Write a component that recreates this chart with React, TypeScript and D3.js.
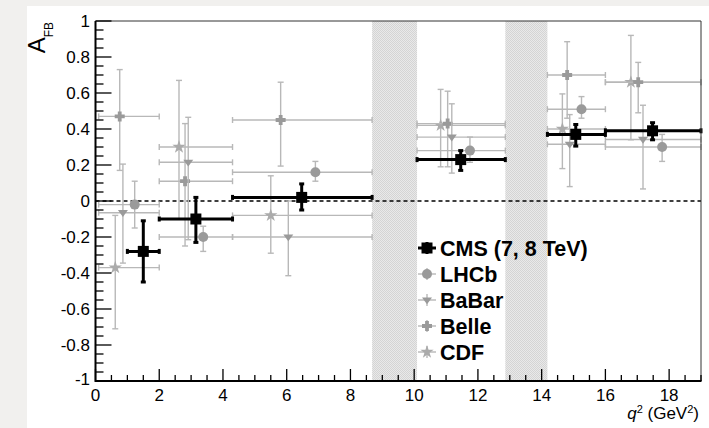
import React from "react";
import * as d3 from "d3";

// q^2 bins (GeV^2) and forward-backward asymmetry measurements
const cmsLo = [1, 2, 4.3, 10.09, 14.18, 16];
const cmsHi = [2, 4.3, 8.68, 12.86, 16, 19];
const cmsX = [1.5, 3.15, 6.47, 11.46, 15.07, 17.48];
const cmsY = [-0.28, -0.1, 0.02, 0.23, 0.37, 0.39];
const cmsUp = [0.17, 0.12, 0.075, 0.05, 0.055, 0.045];
const cmsDn = [0.17, 0.13, 0.07, 0.06, 0.065, 0.05];

const lhcbLo = [0.1, 2, 4.3, 10.09, 14.18, 16];
const lhcbHi = [2, 4.3, 8.68, 12.86, 16, 19];
const lhcbX = [1.23, 3.38, 6.9, 11.75, 15.25, 17.78];
const lhcbY = [-0.02, -0.2, 0.16, 0.28, 0.51, 0.3];
const lhcbUp = [0.13, 0.06, 0.06, 0.075, 0.07, 0.07];
const lhcbDn = [0.13, 0.08, 0.05, 0.065, 0.05, 0.08];

const babarLo = [0.1, 2, 4.3, 10.09, 14.18, 16];
const babarHi = [2, 4.3, 8.68, 12.86, 16, 19];
const babarX = [0.86, 2.91, 6.05, 11.18, 14.88, 17.18];
const babarY = [-0.065, 0.215, -0.2, 0.355, 0.315, 0.342];
const babarUp = [0.27, 0.25, 0.2, 0.185, 0.165, 0.19];
const babarDn = [0.28, 0.43, 0.215, 0.2, 0.235, 0.275];

const belleLo = [0.1, 2, 4.3, 10.09, 14.18, 16];
const belleHi = [2, 4.3, 8.68, 12.86, 16, 19];
const belleX = [0.76, 2.81, 5.81, 11.05, 14.8, 17.03];
const belleY = [0.47, 0.11, 0.45, 0.43, 0.7, 0.66];
const belleUp = [0.26, 0.32, 0.21, 0.18, 0.185, 0.11];
const belleDn = [0.3, 0.36, 0.256, 0.24, 0.24, 0.17];

const cdfLo = [0.1, 2, 4.3, 10.09, 14.18, 16];
const cdfHi = [2, 4.3, 8.68, 12.86, 16, 19];
const cdfX = [0.62, 2.62, 5.5, 10.83, 14.65, 16.8];
const cdfY = [-0.37, 0.3, -0.08, 0.42, 0.4, 0.66];
const cdfUp = [0.29, 0.37, 0.22, 0.2, 0.195, 0.26];
const cdfDn = [0.34, 0.4, 0.21, 0.23, 0.22, 0.32];

// charmonium veto regions
const vetoLo = [8.68, 12.86];
const vetoHi = [10.09, 14.18];

const xTicks = [0, 2, 4, 6, 8, 10, 12, 14, 16, 18];
const yTicks = [-1, -0.8, -0.6, -0.4, -0.2, 0, 0.2, 0.4, 0.6, 0.8, 1];
const legendLabels = ["CMS (7, 8 TeV)", "LHCb", "BaBar", "Belle", "CDF"];

const W = 709;
const H = 428;
const FONT = "'Liberation Sans', Arial, Helvetica, sans-serif";

const x = d3.scaleLinear().domain([0, 19]).range([95.5, 701]);
const y = d3.scaleLinear().domain([-1, 1]).range([381, 21]);

const MARK = "#9a9a9a";
const BAR = "#b8b8b8";

type Shape = "square" | "circle" | "triangle" | "cross" | "star";

function markerPath(shape: Shape, s: number): string {
  if (shape === "circle") return d3.symbol(d3.symbolCircle, Math.PI * s * s)()!;
  if (shape === "triangle") {
    const h = s * 1.15;
    return `M${-s},${-h * 0.45}L${s},${-h * 0.45}L0,${h * 0.75}Z`;
  }
  if (shape === "cross") {
    const a = s, b = s * 0.38;
    return `M${-b},${-a}H${b}V${-b}H${a}V${b}H${b}V${a}H${-b}V${b}H${-a}V${-b}H${-b}Z`;
  }
  if (shape === "star") return d3.symbol(d3.symbolStar, s * s * 2.2)()!;
  return `M${-s},${-s}H${s}V${s}H${-s}Z`;
}

type Series = {
  lo: number[]; hi: number[]; xs: number[]; ys: number[]; up: number[]; dn: number[];
  shape: Shape; size: number; color: string; bar: string; lw: number; cap: number;
};

const grey = { bar: BAR, lw: 1.4, cap: 3 };
const series: Series[] = [
  { lo: cdfLo, hi: cdfHi, xs: cdfX, ys: cdfY, up: cdfUp, dn: cdfDn, shape: "star", size: 5, color: "#ababab", ...grey },
  { lo: belleLo, hi: belleHi, xs: belleX, ys: belleY, up: belleUp, dn: belleDn, shape: "cross", size: 5, color: MARK, ...grey },
  { lo: babarLo, hi: babarHi, xs: babarX, ys: babarY, up: babarUp, dn: babarDn, shape: "triangle", size: 5, color: MARK, ...grey },
  { lo: lhcbLo, hi: lhcbHi, xs: lhcbX, ys: lhcbY, up: lhcbUp, dn: lhcbDn, shape: "circle", size: 5, color: MARK, ...grey },
  { lo: cmsLo, hi: cmsHi, xs: cmsX, ys: cmsY, up: cmsUp, dn: cmsDn, shape: "square", size: 5.5, color: "#000", bar: "#000", lw: 3, cap: 2.5 },
];
const legendOrder = [4, 3, 2, 1, 0];

function SeriesMarks({ s }: { s: Series }) {
  return (
    <g>
      {s.xs.map((xv, i) => {
        const px = x(xv), py = y(s.ys[i]);
        const x0 = x(s.lo[i]), x1 = x(s.hi[i]);
        const yt = y(s.ys[i] + s.up[i]), yb = y(s.ys[i] - s.dn[i]);
        return (
          <g key={i} stroke={s.bar} strokeWidth={s.lw}>
            <line x1={x0} x2={x1} y1={py} y2={py} />
            <line x1={px} x2={px} y1={yt} y2={yb} />
            <line x1={x0} x2={x0} y1={py - s.cap} y2={py + s.cap} />
            <line x1={x1} x2={x1} y1={py - s.cap} y2={py + s.cap} />
            <line x1={px - s.cap} x2={px + s.cap} y1={yt} y2={yt} />
            <line x1={px - s.cap} x2={px + s.cap} y1={yb} y2={yb} />
            <path d={markerPath(s.shape, s.size)} transform={`translate(${px},${py})`} fill={s.color} stroke="none" />
          </g>
        );
      })}
    </g>
  );
}

export default function App() {
  const minorX = d3.range(0, 19.01, 0.5).filter((v) => Math.abs(v / 2 - Math.round(v / 2)) > 1e-6);
  const minorY = d3.range(-1, 1.001, 0.05).filter((v) => Math.abs(v / 0.2 - Math.round(v / 0.2)) > 1e-6);
  const fmt = (v: number) => (Math.abs(v) < 1e-9 ? "0" : String(+v.toFixed(1)));

  return (
    <svg width={W} height={H} style={{ position: "absolute", left: 0, top: 0 }} fontFamily={FONT}>
      <defs>
        <pattern id="veto" width="2" height="2" patternUnits="userSpaceOnUse">
          <rect width="2" height="2" fill="#e9e9e9" />
          <rect width="1" height="1" fill="#d4d4d4" />
          <rect x="1" y="1" width="1" height="1" fill="#d4d4d4" />
        </pattern>
      </defs>
      <rect width={W} height={H} fill="#f1f0ee" />
      <rect x={27} y={6} width={W - 27} height={H - 6} fill="#fff" />

      {vetoLo.map((lo, i) => (
        <rect key={i} x={x(lo)} y={y(1)} width={x(vetoHi[i]) - x(lo)} height={y(-1) - y(1)} fill="url(#veto)" />
      ))}

      <line x1={x(0)} x2={x(19)} y1={y(0)} y2={y(0)} stroke="#000" strokeWidth={1.3} strokeDasharray="4,3" />

      {series.map((s, i) => (
        <SeriesMarks key={i} s={s} />
      ))}

      {/* frame */}
      <line x1={x(0)} x2={x(19)} y1={y(1)} y2={y(1)} stroke="#333" strokeWidth={1} />
      <line x1={x(19)} x2={x(19)} y1={y(1)} y2={y(-1)} stroke="#333" strokeWidth={1} />
      <line x1={x(0)} x2={x(19) + 0.5} y1={y(-1)} y2={y(-1)} stroke="#000" strokeWidth={2} />
      <line x1={x(0)} x2={x(0)} y1={y(1)} y2={y(-1) + 1} stroke="#000" strokeWidth={2} />

      {/* x axis ticks */}
      {xTicks.map((t) => (
        <g key={t}>
          <line x1={x(t)} x2={x(t)} y1={y(-1)} y2={y(-1) - 12} stroke="#000" strokeWidth={1.3} />
          <text x={x(t)} y={401} fontSize={17} textAnchor="middle">{t}</text>
        </g>
      ))}
      {minorX.map((t) => (
        <line key={t} x1={x(t)} x2={x(t)} y1={y(-1)} y2={y(-1) - 6} stroke="#000" strokeWidth={1.3} />
      ))}

      {/* y axis ticks */}
      {yTicks.map((t) => (
        <g key={t}>
          <line x1={x(0)} x2={x(0) + 16} y1={y(t)} y2={y(t)} stroke="#000" strokeWidth={1.3} />
          <text x={90} y={t === -1 ? y(t) - 2 : y(t)} fontSize={17} textAnchor="end" dominantBaseline="central">{fmt(t)}</text>
        </g>
      ))}
      {minorY.map((t) => (
        <line key={t} x1={x(0)} x2={x(0) + 8} y1={y(t)} y2={y(t)} stroke="#000" strokeWidth={1.3} />
      ))}

      {/* axis titles */}
      <text transform="translate(45,22) rotate(-90)" fontSize={24} textAnchor="end">
        A<tspan fontSize={12} dy={8}>FB</tspan>
      </text>
      <text x={699} y={419} fontSize={17} textAnchor="end">
        <tspan fontStyle="italic">q</tspan>
        <tspan fontSize={11} dy={-6}>2</tspan>
        <tspan dy={6}> (GeV</tspan>
        <tspan fontSize={11} dy={-6}>2</tspan>
        <tspan dy={6}>)</tspan>
      </text>

      {/* legend */}
      {legendOrder.map((si, row) => {
        const s = series[si];
        const cx = 427, cy = 248 + row * 26;
        return (
          <g key={si}>
            <g stroke={s.bar} strokeWidth={si === 4 ? 3 : 1.4}>
              <line x1={cx - 9} x2={cx + 9} y1={cy} y2={cy} />
              <line x1={cx} x2={cx} y1={cy - 6} y2={cy + 6} />
            </g>
            <path d={markerPath(s.shape, s.size)} transform={`translate(${cx},${cy})`} fill={s.color} />
            <text x={440} y={cy + 1} fontSize={21.5} fontWeight="bold" dominantBaseline="central">
              {legendLabels[row]}
            </text>
          </g>
        );
      })}
    </svg>
  );
}
